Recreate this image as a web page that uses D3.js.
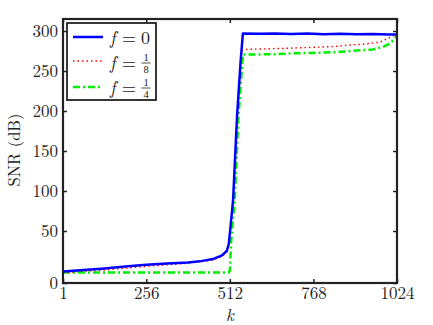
<!DOCTYPE html>
<html lang="en">
  <head>
    <title>SNR vs k</title>
    <meta charset="utf-8">
    <script src="https://d3js.org/d3.v7.min.js"></script>
    <style>
      body { margin: 0; background: #fff; }
    </style>
  </head>
  <body>
    <svg></svg>

    <script>
      // dados
      const xTicks = [1, 256, 512, 768, 1024]
      const yTicks = [0, 50, 100, 150, 200, 250, 300]

      const kBlue = [1, 64, 128, 192, 256, 320, 384, 420, 460, 488, 503, 509, 514, 522, 534, 545, 552, 600, 650, 700, 750, 800, 850, 900, 950, 1000, 1024]
      const snrBlue = [11, 12.5, 14, 15.8, 17.5, 18.8, 19.8, 20.8, 23, 26.5, 31, 38, 55, 89, 193, 262, 297, 296.5, 297, 296.3, 296.8, 296, 296.5, 295.8, 296.2, 295.5, 295.5]

      const kRed = [1, 128, 256, 384, 460, 488, 503, 509, 514, 522, 534, 549, 560, 650, 727, 828, 880, 920, 972, 1002, 1024]
      const snrRed = [10, 12.5, 16, 19, 22, 25.5, 30, 37, 55, 89, 190, 276, 277, 278, 279, 280.5, 282.5, 283.5, 286, 292, 296]

      const kGreen = [1, 508, 512, 516, 527, 538, 552, 650, 700, 800, 850, 900, 950, 980, 1000, 1015, 1024]
      const snrGreen = [10, 10, 12, 40, 89, 190, 270.5, 271, 272, 273, 274, 275.5, 277, 280, 284, 289, 294]

      const series = [
        { nome: '0', k: kBlue, v: snrBlue, cor: '#0000ff', largura: 2.5, traco: null },
        { nome: ['1', '8'], k: kRed, v: snrRed, cor: '#ff0000', largura: 1.4, traco: '1.5,3' },
        { nome: ['1', '4'], k: kGreen, v: snrGreen, cor: '#00ee00', largura: 2.5, traco: '7,3,2,3' }
      ]

      const fonte = '"Latin Modern Roman", "Liberation Serif", serif'
      // fonte das frações: caixa mais baixa, para os números não se sobreporem
      const fonteFracao = '"Liberation Serif", serif'

      const svg = d3.select('svg')
        .attr('width', 433)
        .attr('height', 325)

      const m = { esq: 63, dir: 397, topo: 19, base: 283 }

      const x = d3.scaleLinear().domain([1, 1024]).range([m.esq, m.dir])
      // eixo y não é uniforme: 0-50 ocupa mais espaço
      const y = d3.scaleLinear().domain([0, 50, 315]).range([m.base, 231, m.topo])

      // linhas
      const linha = d3.line()
        .x(d => x(d[0]))
        .y(d => y(d[1]))

      series.slice().reverse().forEach(s => {
        svg.append('path')
          .datum(d3.zip(s.k, s.v))
          .attr('d', linha)
          .attr('fill', 'none')
          .attr('stroke', s.cor)
          .attr('stroke-width', s.largura)
          .attr('stroke-dasharray', s.traco)
          .attr('stroke-linejoin', 'round')
      })

      // eixos (ticks para dentro, nos quatro lados)
      const fmt = d => d
      svg.append('g')
        .attr('transform', `translate(0, ${m.base})`)
        .call(d3.axisBottom(x).tickValues(xTicks).tickFormat(fmt).tickSizeInner(-4).tickSizeOuter(0).tickPadding(4))
      svg.append('g')
        .attr('transform', `translate(0, ${m.topo})`)
        .call(d3.axisTop(x).tickValues(xTicks).tickFormat('').tickSizeInner(-4).tickSizeOuter(0))
      svg.append('g')
        .attr('transform', `translate(${m.esq}, 0)`)
        .call(d3.axisLeft(y).tickValues(yTicks).tickFormat(fmt).tickSizeInner(-4).tickSizeOuter(0).tickPadding(5))
      svg.append('g')
        .attr('transform', `translate(${m.dir}, 0)`)
        .call(d3.axisRight(y).tickValues(yTicks).tickFormat('').tickSizeInner(-4).tickSizeOuter(0))

      svg.selectAll('.domain').remove()
      svg.selectAll('.tick line').attr('stroke', '#222').attr('stroke-width', 1.5)
      svg.selectAll('.tick text')
        .style('font-size', '17px')
        .attr('fill', '#222')

      // moldura
      svg.append('rect')
        .attr('x', m.esq).attr('y', m.topo)
        .attr('width', m.dir - m.esq).attr('height', m.base - m.topo)
        .attr('fill', 'none')
        .attr('stroke', '#222')
        .attr('stroke-width', 2.2)

      // rótulos dos eixos
      svg.append('text')
        .attr('x', (m.esq + m.dir) / 2)
        .attr('y', 321)
        .attr('text-anchor', 'middle')
        .style('font-size', '17px')
        .style('font-style', 'italic')
        .text('k')

      svg.append('text')
        .attr('transform', 'translate(20, 150) rotate(-90)')
        .attr('text-anchor', 'middle')
        .style('font-size', '16.5px')
        .text('SNR (dB)')

      svg.selectAll('text')
        .style('font-family', fonte)
        .attr('fill', '#222')

      // legenda
      const leg = svg.append('g')
      leg.append('rect')
        .attr('x', 67).attr('y', 23)
        .attr('width', 89).attr('height', 77)
        .attr('fill', '#fff')
        .attr('stroke', '#222')
        .attr('stroke-width', 1.8)

      const linhasY = [37, 61, 87]
      const eixoMat = [38, 63, 88]
      series.forEach((s, i) => {
        const ly = linhasY[i], my = eixoMat[i]
        leg.append('line')
          .attr('x1', 73).attr('x2', 103)
          .attr('y1', ly).attr('y2', ly)
          .attr('stroke', s.cor)
          .attr('stroke-width', s.largura)
          .attr('stroke-dasharray', s.traco)
        leg.append('text')
          .attr('x', 110).attr('y', my + 5.5)
          .style('font-family', fonte)
          .style('font-size', '18px')
          .style('font-style', 'italic')
          .attr('fill', '#222')
          .text('f')
        leg.append('text')
          .attr('x', 122).attr('y', my + 5.5)
          .style('font-family', fonte)
          .style('font-size', '18px')
          .attr('fill', '#222')
          .text('=')
        if (typeof s.nome === 'string') {
          leg.append('text')
            .attr('x', 141).attr('y', my + 5.5)
            .style('font-family', fonte)
            .style('font-size', '18px')
            .attr('fill', '#222')
            .text(s.nome)
        } else {
          // fração empilhada
          leg.append('text')
            .attr('x', 146).attr('y', my - 2)
            .attr('text-anchor', 'middle')
            .style('font-family', fonteFracao)
            .style('font-size', '10.5px')
            .attr('fill', '#222')
            .text(s.nome[0])
          leg.append('line')
            .attr('x1', 141.5).attr('x2', 150.5)
            .attr('y1', my).attr('y2', my)
            .attr('stroke', '#222')
            .attr('stroke-width', 0.8)
          leg.append('text')
            .attr('x', 146).attr('y', my + 9.5)
            .attr('text-anchor', 'middle')
            .style('font-family', fonteFracao)
            .style('font-size', '10.5px')
            .attr('fill', '#222')
            .text(s.nome[1])
        }
      })
    </script>
  </body>
</html>
